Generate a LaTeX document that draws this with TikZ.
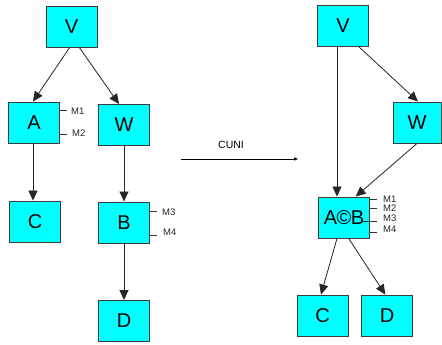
\documentclass[tikz,border=0pt]{standalone}
\usepackage{fontspec}
\setmainfont{Liberation Sans}
\usetikzlibrary{arrows.meta}
\definecolor{boxfill}{RGB}{0,255,255}
\definecolor{edgegray}{RGB}{60,60,60}
\tikzset{
  blk/.style={draw=edgegray, line width=0.9pt, fill=boxfill, minimum width=51pt, minimum height=41pt, inner sep=0pt, font=\fontsize{20}{20}\selectfont},
  conn/.style={line width=0.8pt, draw=black!85, -{Triangle[length=10pt,width=9pt]}},
  tick/.style={line width=0.6pt, draw=black!80},
  mlab/.style={font=\fontsize{9.5}{10}\selectfont, inner sep=0pt, anchor=west, text=black!85},
}
\begin{document}
\begin{tikzpicture}[x=1pt,y=-1pt]
\useasboundingbox (0,0) rectangle (442,345);
% left graph
\node[blk] (V1) at (71.5,26.5) {V};
\node[blk] (A1) at (34,122.5) {A};
\node[blk] (W1) at (124,125) {W};
\node[blk] (C1) at (35,221.5) {C};
\node[blk] (B1) at (124,222.5) {B};
\node[blk] (D1) at (124,321) {D};
\draw[conn] (70,47) -- (A1.north -| 33,0);
\draw[conn] (79,47) -- (W1.north -| 119,0);
\draw[conn] (A1.south -| 33,0) -- (C1.north -| 33,0);
\draw[conn] (W1.south) -- (B1.north);
\draw[conn] (B1.south) -- (D1.north);
\draw[tick] (60,110) -- (67,110);
\draw[tick] (60,134) -- (67,134);
\draw[tick] (150,211.7) -- (157,211.7);
\draw[tick] (150,235) -- (157,235);
\node[mlab] (m1a) at (71,111) {M1};
\node[mlab] (m2a) at (72,133) {M2};
\node[mlab] (m3a) at (162,212) {M3};
\node[mlab] (m4a) at (163,232) {M4};
% transformation arrow
\coordinate (cs) at (181,159);
\coordinate (ce) at (298,159);
\draw[line width=0.8pt, -{Triangle[length=4pt,width=3pt]}] (cs) -- (ce);
\node[font=\fontsize{10.5}{10}\selectfont, inner sep=0pt] (cuni) at (231,145) {CUNI};
% right graph
\node[blk] (V2) at (343,26) {V};
\node[blk, minimum width=48pt] (W2) at (417,122.5) {W};
\node[blk] (AB) at (344,217.5) {A\kern-0.5pt©\kern-0.5ptB};
\node[blk] (C2) at (322.7,315.5) {C};
\node[blk] (D2) at (387,315.5) {D};
\draw[conn] (V2.south -| 337,0) -- (AB.north -| 337,0);
\draw[conn] (358,46) -- (W2.north -| 418,0);
\draw[conn] (W2.south) -- (AB.north -| 355.7,0);
\draw[conn] (AB.south -| 337,0) -- (C2.north -| 321,0);
\draw[conn] (AB.south -| 348.7,0) -- (D2.north -| 385.3,0);
\draw[tick] (370,199) -- (377,199);
\draw[tick] (370,208.3) -- (377,208.3);
\draw[tick] (361,221.7) -- (377,221.7);
\draw[tick] (370,232) -- (377,232);
\node[mlab] (m1b) at (383,199) {M1};
\node[mlab] (m2b) at (383,208) {M2};
\node[mlab] (m3b) at (383,218) {M3};
\node[mlab] (m4b) at (383,229) {M4};
\end{tikzpicture}
\end{document}
